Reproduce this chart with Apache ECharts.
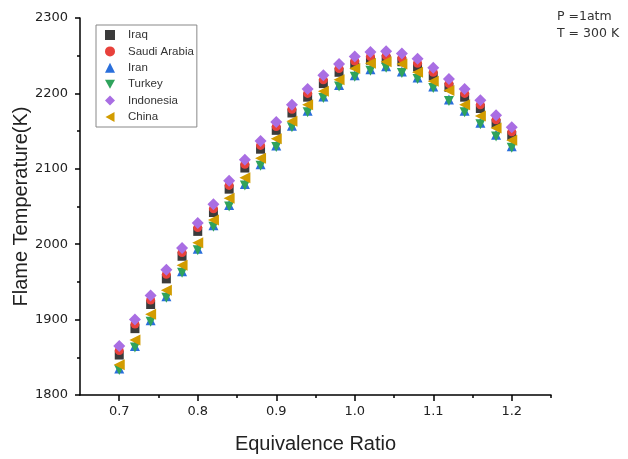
<!DOCTYPE html>
<html>
<head>
<meta charset="utf-8">
<script src="https://cdn.jsdelivr.net/npm/echarts@6/dist/echarts.min.js"></script>
<style>html,body{margin:0;padding:0;background:#fff;}#c{width:628px;height:459px;}</style>
</head>
<body>
<div id="c"></div>
<script>
const phi = [0.70,0.72,0.74,0.76,0.78,0.80,0.82,0.84,0.86,0.88,0.90,0.92,0.94,0.96,0.98,1.00,1.02,1.04,1.06,1.08,1.10,1.12,1.14,1.16,1.18,1.20];
const iraq = [1853,1888,1920,1954,1984,2017,2042,2073,2101,2126,2151,2174,2195,2213,2228,2238,2244,2245,2242,2235,2223,2208,2195,2180,2160,2144];
const saudiArabia = [1859,1894,1926,1960,1989,2022,2047,2078,2106,2131,2156,2179,2200,2218,2233,2243,2249,2250,2247,2240,2228,2213,2200,2185,2165,2149];
const iran = [1835,1865,1899,1931,1964,1994,2025,2052,2080,2106,2131,2157,2177,2196,2211,2224,2232,2236,2229,2221,2209,2192,2177,2161,2145,2130];
const turkey = [1833,1863,1897,1929,1962,1992,2023,2050,2078,2104,2129,2155,2175,2194,2209,2222,2230,2234,2227,2219,2207,2190,2175,2159,2143,2128];
const indonesia = [1865,1900,1932,1966,1995,2028,2053,2084,2112,2137,2162,2185,2206,2224,2239,2249,2255,2256,2253,2246,2234,2219,2206,2191,2171,2155];
const china = [1840,1873,1907,1939,1972,2002,2032,2061,2088,2114,2140,2163,2185,2203,2218,2233,2240,2242,2239,2228,2216,2204,2185,2170,2154,2138];
const xMajorTicks = [0.7,0.8,0.9,1.0,1.1,1.2];
const xMinorTicks = [0.75,0.85,0.95,1.05,1.15,1.25];
const seriesNames = ['Iraq','Saudi Arabia','Iran','Turkey','Indonesia','China'];

const pair = arr => phi.map((x,i)=>[x,arr[i]]);
const font = 'Liberation Sans, Arial, sans-serif';
const tickFont = 'DejaVu Sans, sans-serif';
const SYM = {
  rect:'rect', circle:'circle', up:'triangle',
  down:'path://M0,0L10,0L5,9Z',
  diamond:'diamond',
  left:'path://M9,0L9,10L0,5Z'
};
const chart = echarts.init(document.getElementById('c'), null, {renderer:'canvas'});
const mk = (name, data, symbol, size, color) => ({
  name, type:'scatter', data:pair(data), symbol, symbolSize:size,
  itemStyle:{color, opacity:1}, xAxisIndex:0, yAxisIndex:0, silent:true
});
chart.setOption({
  animation:false,
  backgroundColor:'#fff',
  textStyle:{fontFamily:font},
  grid:{left:80, right:77, top:18, bottom:64, containLabel:false, outerBoundsMode:'none'},
  legend:{
    orient:'vertical', left:96, top:25, padding:[4,3,4,9],
    borderColor:'#888', borderWidth:1, itemGap:4.4, itemWidth:10, itemHeight:10,
    textStyle:{fontFamily:font, fontSize:11.5, color:'#333', padding:[0,0,0,8]},
    data:[
      {name:'Iraq', icon:SYM.rect},
      {name:'Saudi Arabia', icon:SYM.circle},
      {name:'Iran', icon:SYM.up},
      {name:'Turkey', icon:SYM.down},
      {name:'Indonesia', icon:SYM.diamond},
      {name:'China', icon:SYM.left}
    ]
  },
  xAxis:[{
    type:'value', min:0.65, max:1.25, position:'bottom',
    name:'Equivalence Ratio', nameLocation:'middle', nameGap:39, nameMoveOverlap:false,
    nameTextStyle:{fontFamily:font, fontSize:20, color:'#222'},
    axisLine:{show:true, onZero:false, lineStyle:{color:'#000', width:1.5}},
    axisTick:{show:true, length:6, customValues:xMajorTicks, lineStyle:{color:'#000', width:1.5}},
    axisLabel:{show:true, customValues:xMajorTicks, fontFamily:tickFont, fontSize:13, color:'#222', margin:10,
      formatter:v=>v.toFixed(1)},
    splitLine:{show:false}
  },{
    type:'value', min:0.65, max:1.25, position:'bottom',
    axisLine:{show:false},
    axisTick:{show:true, length:3, customValues:xMinorTicks, lineStyle:{color:'#000', width:1.5}},
    axisLabel:{show:false},
    splitLine:{show:false}
  }],
  yAxis:{
    type:'value', min:1800, max:2300, interval:100,
    name:'Flame Temperature(K)', nameLocation:'middle', nameGap:49, nameRotate:90, nameMoveOverlap:false,
    nameTextStyle:{fontFamily:font, fontSize:20, color:'#222'},
    axisLine:{show:true, onZero:false, lineStyle:{color:'#000', width:1.5}},
    axisTick:{show:true, length:5, lineStyle:{color:'#000', width:1.5}},
    minorTick:{show:true, splitNumber:2, length:3, lineStyle:{color:'#000', width:1.5}},
    axisLabel:{fontFamily:tickFont, fontSize:13, color:'#222', margin:12, formatter:v=>String(v)},
    splitLine:{show:false}
  },
  graphic:[
    {type:'text', left:557, top:10, style:{text:'P =1atm', font:'12.5px '+tickFont, fill:'#333'}},
    {type:'text', left:557, top:27, style:{text:'T = 300 K', font:'12.5px '+tickFont, fill:'#333'}}
  ],
  series:[
    mk('Iraq', iraq, SYM.rect, 9, '#3b3b3b'),
    mk('Saudi Arabia', saudiArabia, SYM.circle, 9, '#e8413b'),
    mk('Iran', iran, SYM.up, 10, '#2a6fdb'),
    mk('Turkey', turkey, SYM.down, 10, '#2fa35c'),
    mk('Indonesia', indonesia, SYM.diamond, 12, '#a96ee3'),
    mk('China', china, SYM.left, 11, '#d29c00')
  ]
});
</script>
</body>
</html>
